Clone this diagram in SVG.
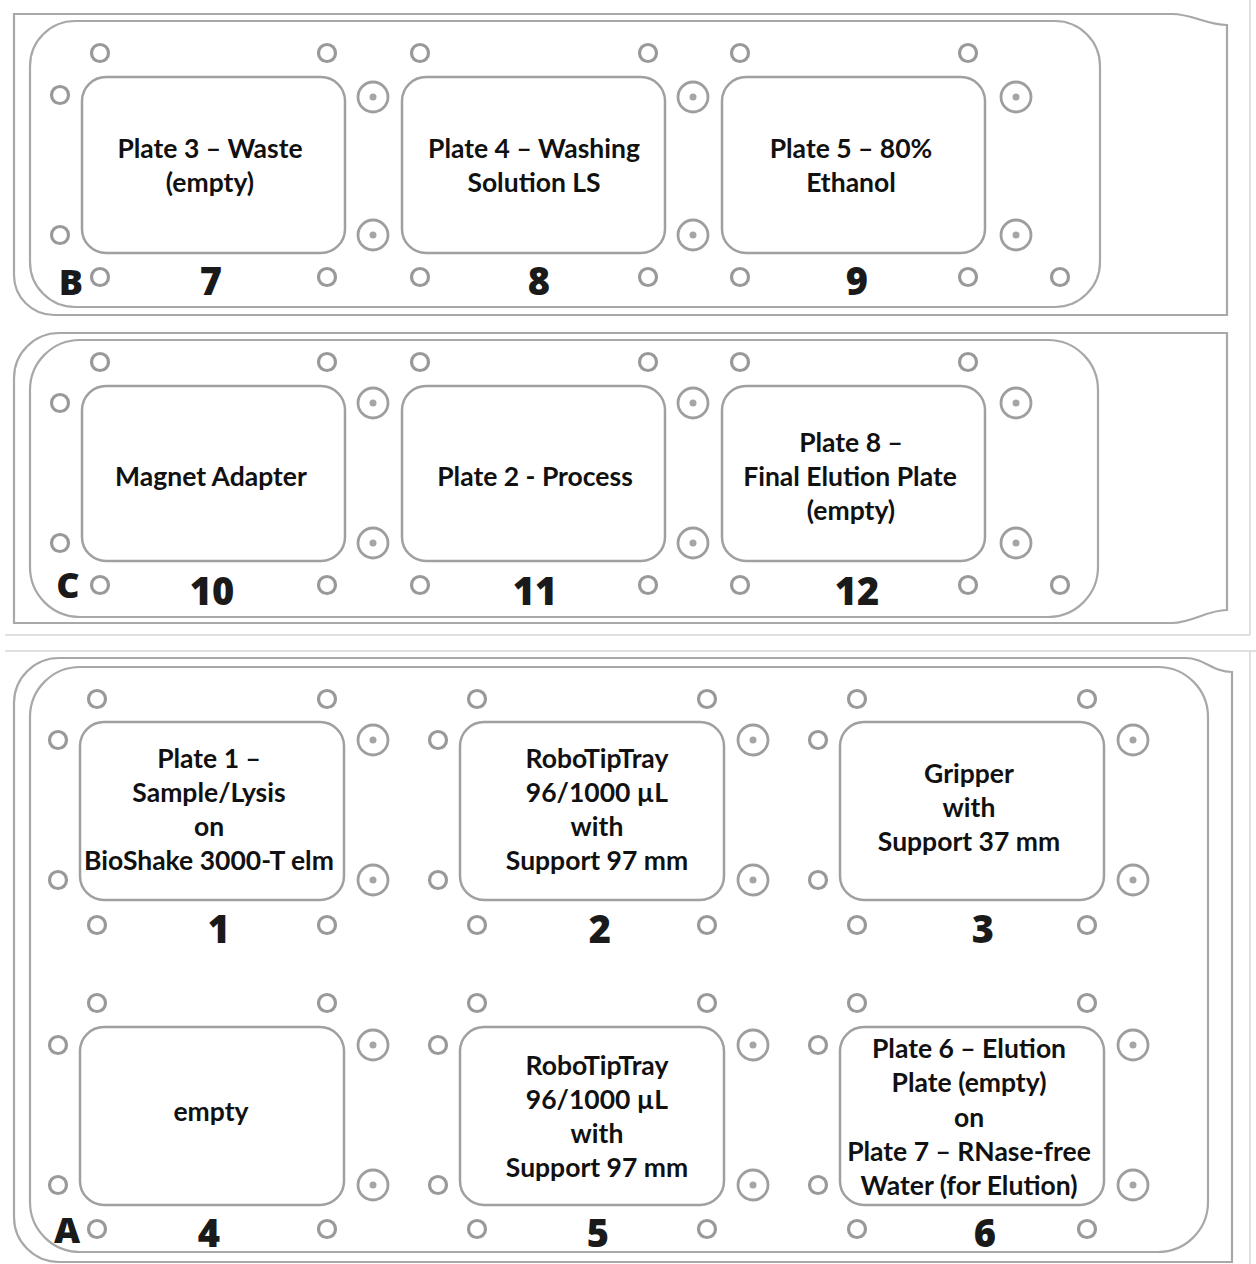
<svg xmlns="http://www.w3.org/2000/svg" width="1256" height="1264" viewBox="0 0 1256 1264">
<style>
.bg{fill:#fff}
.border{stroke:#d6d6d6;stroke-width:1.5;fill:none}
.frame{fill:none;stroke:#a8a8a8;stroke-width:2.2}
.well{fill:#fff;stroke:#a0a0a0;stroke-width:2.5}
.hole{fill:#fff;stroke:#999;stroke-width:3.2}
.pin{fill:#fff;stroke:#9e9e9e;stroke-width:2.8}
.dot{fill:#a5a5a5}
.lbl{font-family:Lato,"Liberation Sans",sans-serif;font-weight:700;font-size:26.5px;fill:#111;text-anchor:middle}
.num{font-family:"Open Sans","Liberation Sans",sans-serif;font-weight:800;font-size:38px;fill:#1a1a1a;text-anchor:middle}
.row{font-family:"Open Sans","Liberation Sans",sans-serif;font-weight:800;font-size:36px;fill:#1a1a1a;text-anchor:middle}
</style>
<defs>
<g id="h"><circle r="8.5" class="hole"/></g>
<g id="p"><circle r="15" class="pin"/><circle r="3.5" class="dot"/></g>
</defs>
<rect class="bg" x="0" y="0" width="1256" height="1264"/>
<g id="image-borders">
<line class="border" x1="1250" y1="0" x2="1250" y2="635"/>
<line class="border" x1="5" y1="635" x2="1250" y2="635"/>
<line class="border" x1="5" y1="651" x2="1256" y2="651"/>
<line class="border" x1="1250" y1="651" x2="1250" y2="1264"/>
</g>

<!-- Panel B -->
<g id="panel-B">
<path class="frame" d="M14,14 H1172 C1192,14 1207,25 1227,25 V315 H54 A40,40 0 0 1 14,275 Z"/>
<rect class="frame" x="30" y="21" width="1070" height="286" rx="45"/>
<use href="#h" x="100" y="53"/><use href="#h" x="327" y="53"/>
<use href="#h" x="420" y="53"/><use href="#h" x="648" y="53"/>
<use href="#h" x="740" y="53"/><use href="#h" x="968" y="53"/>
<use href="#h" x="60" y="95"/><use href="#h" x="60" y="235"/>
<use href="#h" x="100" y="277"/><use href="#h" x="327" y="277"/>
<use href="#h" x="420" y="277"/><use href="#h" x="648" y="277"/>
<use href="#h" x="740" y="277"/><use href="#h" x="968" y="277"/>
<use href="#h" x="1060" y="277"/>
<use href="#p" x="373" y="97"/><use href="#p" x="373" y="235"/>
<use href="#p" x="693" y="97"/><use href="#p" x="693" y="235"/>
<use href="#p" x="1016" y="97"/><use href="#p" x="1016" y="235"/>
<text class="row" x="71" y="295">B</text>
</g>
<g id="pos-7">
<rect class="well" x="82" y="77" width="263" height="176" rx="24"/>
<text class="lbl" x="210" y="158">Plate 3 – Waste</text>
<text class="lbl" x="210" y="192">(empty)</text>
<text class="num" x="211" y="295">7</text>
</g>
<g id="pos-8">
<rect class="well" x="402" y="77" width="263" height="176" rx="24"/>
<text class="lbl" x="534" y="158">Plate 4 – Washing</text>
<text class="lbl" x="534" y="192">Solution LS</text>
<text class="num" x="539" y="295">8</text>
</g>
<g id="pos-9">
<rect class="well" x="722" y="77" width="263" height="176" rx="24"/>
<text class="lbl" x="851" y="158">Plate 5 – 80%</text>
<text class="lbl" x="851" y="192">Ethanol</text>
<text class="num" x="857" y="295">9</text>
</g>

<!-- Panel C -->
<g id="panel-C">
<path class="frame" d="M14,378 A45,45 0 0 1 59,333 H1227 V610 C1207,610 1192,623 1172,623 H14 Z"/>
<rect class="frame" x="30" y="340" width="1068" height="277" rx="50"/>
<use href="#h" x="100" y="362"/><use href="#h" x="327" y="362"/>
<use href="#h" x="420" y="362"/><use href="#h" x="648" y="362"/>
<use href="#h" x="740" y="362"/><use href="#h" x="968" y="362"/>
<use href="#h" x="60" y="403"/><use href="#h" x="60" y="543"/>
<use href="#h" x="100" y="585"/><use href="#h" x="327" y="585"/>
<use href="#h" x="420" y="585"/><use href="#h" x="648" y="585"/>
<use href="#h" x="740" y="585"/><use href="#h" x="968" y="585"/>
<use href="#h" x="1060" y="585"/>
<use href="#p" x="373" y="403"/><use href="#p" x="373" y="543"/>
<use href="#p" x="693" y="403"/><use href="#p" x="693" y="543"/>
<use href="#p" x="1016" y="403"/><use href="#p" x="1016" y="543"/>
<text class="row" x="68" y="598">C</text>
</g>
<g id="pos-10">
<rect class="well" x="82" y="386" width="263" height="175" rx="24"/>
<text class="lbl" x="211" y="486">Magnet Adapter</text>
<text class="num" x="212" y="605">10</text>
</g>
<g id="pos-11">
<rect class="well" x="402" y="386" width="263" height="175" rx="24"/>
<text class="lbl" x="535" y="486">Plate 2 - Process</text>
<text class="num" x="535" y="605">11</text>
</g>
<g id="pos-12">
<rect class="well" x="722" y="386" width="263" height="175" rx="24"/>
<text class="lbl" x="851" y="452">Plate 8 –</text>
<text class="lbl" x="850" y="486">Final Elution Plate</text>
<text class="lbl" x="851" y="520">(empty)</text>
<text class="num" x="857" y="605">12</text>
</g>

<!-- Panel A -->
<g id="panel-A">
<path class="frame" d="M14,703 A45,45 0 0 1 59,658 H1185 C1205,658 1212,672 1232,672 V1262 H59 A45,45 0 0 1 14,1217 Z"/>
<rect class="frame" x="30" y="667" width="1178" height="585" rx="50"/>
<use href="#h" x="97" y="699"/><use href="#h" x="327" y="699"/>
<use href="#h" x="477" y="699"/><use href="#h" x="707" y="699"/>
<use href="#h" x="857" y="699"/><use href="#h" x="1087" y="699"/>
<use href="#h" x="58" y="740"/><use href="#h" x="58" y="880"/>
<use href="#h" x="438" y="740"/><use href="#h" x="438" y="880"/>
<use href="#h" x="818" y="740"/><use href="#h" x="818" y="880"/>
<use href="#h" x="97" y="925"/><use href="#h" x="327" y="925"/>
<use href="#h" x="477" y="925"/><use href="#h" x="707" y="925"/>
<use href="#h" x="857" y="925"/><use href="#h" x="1087" y="925"/>
<use href="#p" x="373" y="740"/><use href="#p" x="373" y="880"/>
<use href="#p" x="753" y="740"/><use href="#p" x="753" y="880"/>
<use href="#p" x="1133" y="740"/><use href="#p" x="1133" y="880"/>
<use href="#h" x="97" y="1003"/><use href="#h" x="327" y="1003"/>
<use href="#h" x="477" y="1003"/><use href="#h" x="707" y="1003"/>
<use href="#h" x="857" y="1003"/><use href="#h" x="1087" y="1003"/>
<use href="#h" x="58" y="1045"/><use href="#h" x="58" y="1185"/>
<use href="#h" x="438" y="1045"/><use href="#h" x="438" y="1185"/>
<use href="#h" x="818" y="1045"/><use href="#h" x="818" y="1185"/>
<use href="#h" x="97" y="1229"/><use href="#h" x="327" y="1229"/>
<use href="#h" x="477" y="1229"/><use href="#h" x="707" y="1229"/>
<use href="#h" x="857" y="1229"/><use href="#h" x="1087" y="1229"/>
<use href="#p" x="373" y="1045"/><use href="#p" x="373" y="1185"/>
<use href="#p" x="753" y="1045"/><use href="#p" x="753" y="1185"/>
<use href="#p" x="1133" y="1045"/><use href="#p" x="1133" y="1185"/>
<text class="row" x="67" y="1243">A</text>
</g>
<g id="pos-1">
<rect class="well" x="80" y="722" width="264" height="178" rx="24"/>
<text class="lbl" x="209" y="768">Plate 1 –</text>
<text class="lbl" x="209" y="802">Sample/Lysis</text>
<text class="lbl" x="209" y="836">on</text>
<text class="lbl" x="209" y="870">BioShake 3000-T elm</text>
<text class="num" x="219" y="943">1</text>
</g>
<g id="pos-2">
<rect class="well" x="460" y="722" width="264" height="178" rx="24"/>
<text class="lbl" x="597" y="768">RoboTipTray</text>
<text class="lbl" x="597" y="802">96/1000 µL</text>
<text class="lbl" x="597" y="836">with</text>
<text class="lbl" x="597" y="870">Support 97 mm</text>
<text class="num" x="600" y="943">2</text>
</g>
<g id="pos-3">
<rect class="well" x="840" y="722" width="264" height="178" rx="24"/>
<text class="lbl" x="969" y="783">Gripper</text>
<text class="lbl" x="969" y="817">with</text>
<text class="lbl" x="969" y="851">Support 37 mm</text>
<text class="num" x="983" y="943">3</text>
</g>
<g id="pos-4">
<rect class="well" x="80" y="1027" width="264" height="178" rx="24"/>
<text class="lbl" x="211" y="1121">empty</text>
<text class="num" x="209" y="1247">4</text>
</g>
<g id="pos-5">
<rect class="well" x="460" y="1027" width="264" height="178" rx="24"/>
<text class="lbl" x="597" y="1075">RoboTipTray</text>
<text class="lbl" x="597" y="1109">96/1000 µL</text>
<text class="lbl" x="597" y="1143">with</text>
<text class="lbl" x="597" y="1177">Support 97 mm</text>
<text class="num" x="598" y="1247">5</text>
</g>
<g id="pos-6">
<rect class="well" x="840" y="1027" width="264" height="178" rx="24"/>
<text class="lbl" x="969" y="1058">Plate 6 – Elution</text>
<text class="lbl" x="969" y="1092">Plate (empty)</text>
<text class="lbl" x="969" y="1127">on</text>
<text class="lbl" x="969" y="1161">Plate 7 – RNase-free</text>
<text class="lbl" x="969" y="1195">Water (for Elution)</text>
<text class="num" x="985" y="1247">6</text>
</g>
<g id="connectors"/>
</svg>
